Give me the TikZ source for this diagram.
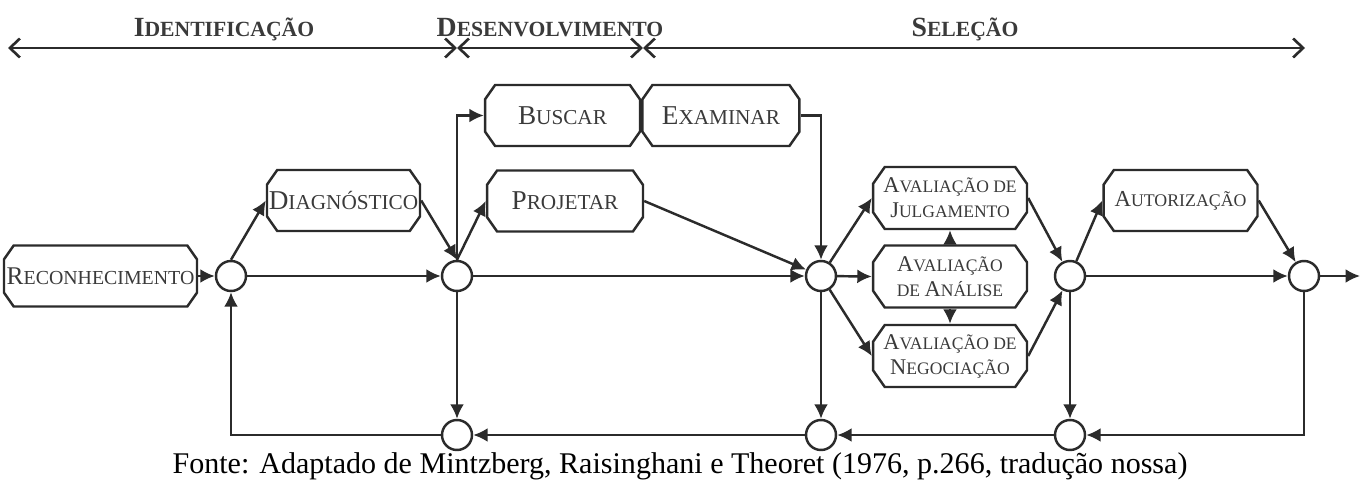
\documentclass[tikz,border=0pt]{standalone}
\usepackage{fontspec}
\setmainfont{Liberation Serif}
\usepackage{tikz}
\usetikzlibrary{arrows.meta,shapes.misc,positioning}
\definecolor{linegray}{HTML}{2B2B2B}
\definecolor{textgray}{HTML}{3A3A3A}
% small letters of the small caps, 0.78 of the current size
\makeatletter
\newcommand\scsmall[1]{{\@tempdima=\f@size pt\relax\@tempdima=0.78\@tempdima
  \fontsize{\strip@pt\@tempdima}{\f@baselineskip}\selectfont #1}}
\makeatother
\tikzset{
  stage/.style={chamfered rectangle, chamfered rectangle xsep=0.16cm, chamfered rectangle angle=35,
    draw=linegray, line width=1.4pt, inner xsep=-0.16cm, inner ysep=0pt,
    minimum width=3.1cm, minimum height=1.22cm,
    text=textgray, font=\fontsize{15.5}{17}\selectfont},
  evalbox/.style={stage, minimum width=3.08cm, minimum height=1.24cm, align=center,
    font=\fontsize{12.8}{14.2}\selectfont},
  junc/.style={circle, draw=linegray, line width=1.4pt, fill=white, inner sep=0pt, minimum size=0.6cm},
  flow/.style={draw=linegray, line width=1.4pt, -{Latex[length=0.29cm,width=0.28cm]}},
  phase/.style={draw=linegray, line width=1.5pt,
    {Straight Barb[length=0.2cm,width=0.38cm]}-{Straight Barb[length=0.2cm,width=0.38cm]}},
  phaselabel/.style={anchor=base, text=textgray, font=\bfseries\fontsize{15.8}{18}\selectfont}
}

\begin{document}
\begin{tikzpicture}[x=0.02cm, y=-0.02cm]
            \useasboundingbox (0,0) rectangle (1362,483);
            % Phases on top
            \coordinate (t0) at (8,48);
            \coordinate (t1) at (457,48);
            \coordinate (t2) at (643,48);
            \coordinate (t3) at (1305,48);
            \draw[phase] (t0) -- (t1);
            \draw[phase] (t1) -- (t2);
            \draw[phase] (t2) -- (t3);
            \node[phaselabel] (ident) at (224,37) {I\scsmall{DENTIFICAÇÃO}};
            \node[phaselabel] (desenv) at (550,37) {D\scsmall{ESENVOLVIMENTO}};
            \node[phaselabel] (selec) at (965,37) {S\scsmall{ELEÇÃO}};
            % Draw the routine boxes
            \node[stage, minimum width=3.86cm, font=\fontsize{14.5}{16}\selectfont] (rec) at (100.5,276) {R\scsmall{ECONHECIMENTO}};
            \node[stage, minimum width=3.06cm] (diag) at (343.5,200.5) {D\scsmall{IAGNÓSTICO}};
            \node[stage] (bus) at (562.5,115.5) {B\scsmall{USCAR}};
            \node[stage, minimum width=3.14cm, right=0pt of bus] (exa) {E\scsmall{XAMINAR}};
            \node[stage, minimum width=3.12cm] (proj) at (565,201) {P\scsmall{ROJETAR}};
            \node[evalbox] (julg) at (950,198) {A\scsmall{VALIAÇÃO DE}\\J\scsmall{ULGAMENTO}};
            \node[evalbox] (anal) at (950,276.5) {A\scsmall{VALIAÇÃO}\\\scsmall{DE }A\scsmall{NÁLISE}};
            \node[evalbox] (neg) at (950,356) {A\scsmall{VALIAÇÃO DE}\\N\scsmall{EGOCIAÇÃO}};
            \node[evalbox, minimum height=1.22cm, font=\fontsize{13}{15}\selectfont] (aut) at (1180.5,200.5) {A\scsmall{UTORIZAÇÃO}};
            % Draw the junctions
            \node[junc] (c1) at (231,276) {};
            \node[junc] (c2) at (457,276) {};
            \node[junc] (c3) at (821,276) {};
            \node[junc] (c4) at (1070,276) {};
            \node[junc] (c5) at (1304,276) {};
            \node[junc] (b2) at (457,435) {};
            \node[junc] (b3) at (821,435) {};
            \node[junc] (b4) at (1070,435) {};
            \coordinate (out) at (1360,276);
            % Source line
            \node[text=black, font=\fontsize{17.1}{19}\selectfont] (src) at (680,466) {Fonte: Adaptado de Mintzberg, Raisinghani e Theoret (1976, p.266, tradução nossa)};
            % Draw connecting arrows
            \draw[flow] (rec.east) -- (c1.west);
            \draw[flow] (c1.north) -- (diag.west);
            \draw[flow] (c1) -- (c2);
            \draw[flow] (diag.east) -- (c2.north);
            \draw[flow] (c2.north) -- (proj.west);
            \draw[flow] (c2.north) |- (bus.west);
            \draw[flow] (exa.east) -| (c3.north);
            \draw[flow] (proj.east) -- (c3);
            \draw[flow] (c2) -- (c3);
            \draw[flow] (c2) -- (b2);
            \draw[flow] (c3) -- (julg.west);
            \draw[flow] (c3) -- (anal.west);
            \draw[flow] (c3) -- (neg.west);
            \draw[flow] (anal.north) -- (julg.south);
            \draw[flow] (anal.south) -- (neg.north);
            \draw[flow] (julg.east) -- (c4);
            \draw[flow] (neg.east) -- (c4);
            \draw[flow] (c3) -- (b3);
            \draw[flow] (c4) -- (aut.west);
            \draw[flow] (aut.east) -- (c5);
            \draw[flow] (c4) -- (c5);
            \draw[flow] (c5) -- (out);
            \draw[flow] (c4) -- (b4);
            \draw[flow] (c5.south) |- (b4.east);
            \draw[flow] (b4) -- (b3);
            \draw[flow] (b3) -- (b2);
            \draw[flow] (b2.west) -| (c1.south);
        \end{tikzpicture}
\end{document}
